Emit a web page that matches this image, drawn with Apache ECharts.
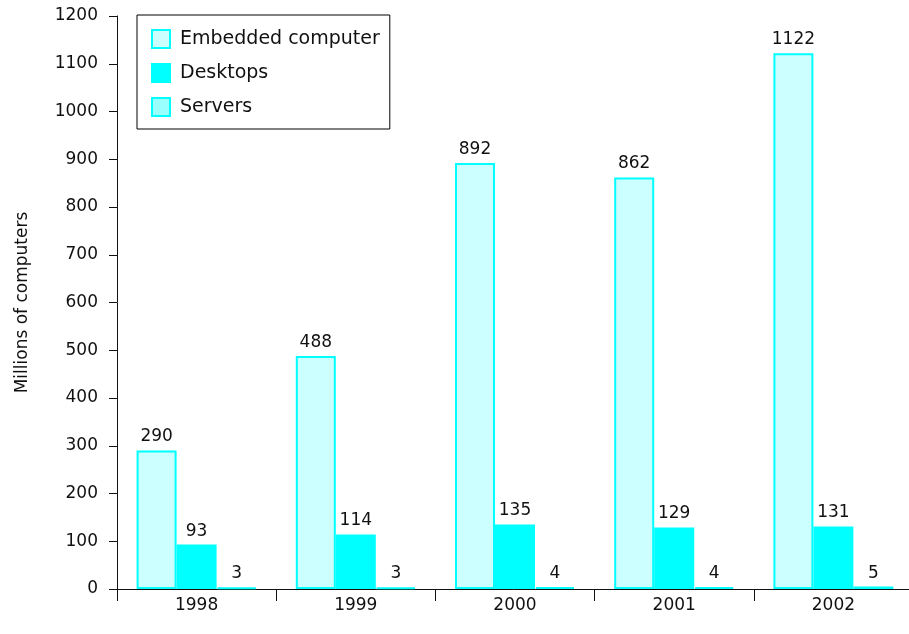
<!DOCTYPE html>
<html>
<head>
<meta charset="utf-8">
<script src="https://cdn.jsdelivr.net/npm/echarts@6/dist/echarts.min.js"></script>
<style>
  html, body { margin: 0; padding: 0; background: #fff; }
  #chart { width: 909px; height: 634px; }
</style>
</head>
<body>
<div id="chart"></div>
<script>
// Units shipped per year, in millions
const years = ['1998', '1999', '2000', '2001', '2002'];
const embedded = [290, 488, 892, 862, 1122];
const desktops = [93, 114, 135, 129, 131];
const servers = [3, 3, 4, 4, 5];
const seriesNames = ['Embedded computer', 'Desktops', 'Servers'];

const FONT = 'DejaVu Sans';
const chart = echarts.init(document.getElementById('chart'), null, { renderer: 'canvas' });

function barSeries(name, data, fill) {
  return {
    name: name,
    type: 'bar',
    data: data,
    barWidth: 40,
    barGap: '0%',
    itemStyle: { color: fill, borderColor: '#00ffff', borderWidth: 2 },
    label: {
      show: true,
      position: 'top',
      distance: 5,
      color: '#111',
      fontFamily: FONT,
      fontSize: 17
    }
  };
}

chart.setOption({
  animation: false,
  backgroundColor: '#ffffff',
  grid: { left: 117, right: -4, top: 16, bottom: 45, outerBoundsMode: 'none' },
  legend: {
    orient: 'vertical',
    left: 137,
    top: 15,
    data: seriesNames,
    icon: 'rect',
    itemWidth: 18,
    itemHeight: 18,
    itemGap: 14,
    padding: [14, 10, 12, 14],
    borderColor: '#000',
    borderWidth: 1,
    backgroundColor: '#fff',
    textStyle: { fontFamily: FONT, fontSize: 19, lineHeight: 18, color: '#111', padding: [0, 0, 0, 5] }
  },
  xAxis: {
    type: 'category',
    data: years,
    axisLine: { lineStyle: { color: '#111', width: 1 } },
    axisTick: { show: true, length: 12, lineStyle: { color: '#111' } },
    axisLabel: { fontFamily: FONT, fontSize: 17, color: '#111', margin: 8 }
  },
  yAxis: {
    type: 'value',
    min: 0,
    max: 1200,
    interval: 100,
    name: 'Millions of computers',
    nameLocation: 'middle',
    nameGap: 86,
    nameTextStyle: { fontFamily: FONT, fontSize: 17, color: '#111' },
    axisLine: { show: true, lineStyle: { color: '#111', width: 1 } },
    axisTick: { show: true, length: 8, lineStyle: { color: '#111' } },
    splitLine: { show: false },
    axisLabel: {
      fontFamily: FONT, fontSize: 17, color: '#111', margin: 19,
      formatter: function (v) { return String(v); }
    }
  },
  series: [
    barSeries(seriesNames[0], embedded, '#ccffff'),
    barSeries(seriesNames[1], desktops, '#00ffff'),
    barSeries(seriesNames[2], servers, '#99ffff')
  ]
});
</script>
</body>
</html>
